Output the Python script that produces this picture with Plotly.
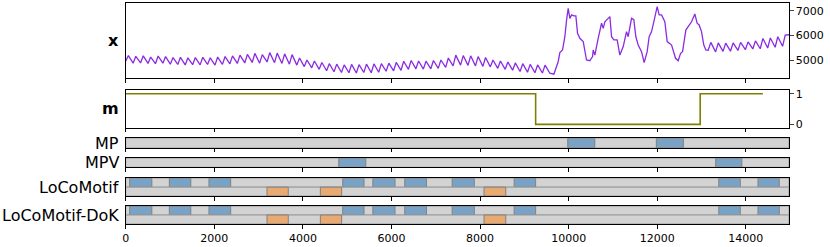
import plotly.graph_objects as go

# ---------------- data ----------------
WEEK = 168
X_END = 14975

# weekly sawtooth part of x (troughs / peaks per week)
x_week_trough = [4950, 4870, 4880, 4860, 4850, 4870, 4830, 4820, 4800, 4810,
                 4800, 4820, 4790, 4820, 4840, 4860, 4880, 4900, 4870, 4920,
                 4890, 4860, 4830, 4790, 4730, 4680, 4620, 4560, 4520, 4490,
                 4480, 4470, 4490, 4480, 4500, 4540, 4560, 4580, 4620, 4640,
                 4630, 4640, 4660, 4700, 4760, 4790, 4780, 4760, 4740, 4720,
                 4660, 4620, 4580, 4530, 4500, 4480, 4470, 4460]
x_week_peak = [5180, 5150, 5170, 5120, 5160, 5140, 5100, 5110, 5090, 5100,
               5110, 5090, 5120, 5140, 5170, 5200, 5230, 5270, 5220, 5300,
               5280, 5250, 5220, 5080, 5000, 4960, 4900, 4850, 4830, 4800,
               4820, 4810, 4830, 4840, 4850, 4870, 4900, 4950, 4980, 4960,
               4950, 4980, 5000, 5080, 5200, 5180, 5170, 5140, 5100, 5000,
               4960, 4920, 4880, 4850, 4820, 4800, 4790]

# irregular event part of x
x_event_t = [9667, 9764, 9802, 9862, 9915, 9953, 9990, 10028, 10066, 10118,
             10163, 10201, 10253, 10329, 10366, 10404, 10479, 10540, 10555, 10592,
             10667, 10743, 10781, 10818, 10893, 10931, 10969, 11021, 11096, 11156,
             11231, 11307, 11344, 11420, 11472, 11517, 11570, 11646, 11705, 11773,
             11818, 11872, 11932, 11999, 12044, 12098, 12172, 12225, 12324, 12360,
             12414, 12473, 12527, 12572, 12646, 12699, 12775, 12849, 12901, 12946,
             13000, 13052, 13097]
x_event_v = [4420, 4930, 5300, 5410, 5950, 6630, 7110, 6700, 6840, 6800,
             6800, 6090, 5885, 5750, 5410, 5000, 4970, 5140, 5410, 5200,
             5885, 6500, 6290, 6560, 6700, 6770, 5950, 5820, 5820, 5200,
             5540, 6160, 5950, 6700, 6650, 5950, 5610, 5340, 4890, 5340,
             5950, 6160, 6630, 7180, 6840, 6840, 6560, 5750, 5610, 5410,
             5070, 4970, 5270, 5340, 6220, 6360, 6560, 6880, 6500, 6430,
             6160, 5610, 5410]

# weekly sawtooth tail of x
x_tail_start = 13150
x_tail_trough = [5400, 5330, 5350, 5360, 5390, 5420, 5450, 5460, 5490, 5520, 5560]
x_tail_peak = [5720, 5700, 5690, 5700, 5720, 5740, 5780, 5880, 5900, 5950, 6020]
x_last = 6030

# m (step signal)
m_t = [0, 9255, 12970, 14386]
m_v = [1, 0, 1, 1]

# motif sets: (start, end)
mp_blue = [(9980, 10590), (11980, 12590)]
mpv_blue = [(4810, 5420), (13320, 13910)]
loco_blue = [(90, 590), (985, 1470), (1880, 2370), (4900, 5380), (5580, 6080),
             (6300, 6790), (7370, 7870), (8770, 9255), (13390, 13875), (14275, 14755)]
loco_orange = [(3190, 3670), (4395, 4875), (8090, 8580)]
dok_blue = list(loco_blue)
dok_orange = list(loco_orange)

panel_labels = ["x", "m", "MP", "MPV", "LoCoMotif", "LoCoMotif-DoK"]
x_ticks = [0, 2000, 4000, 6000, 8000, 10000, 12000, 14000]
x_tick_text = ["0", "2000", "4000", "6000", "8000", "10000", "12000", "14000"]
x_yticks = [5000, 6000, 7000]
m_yticks = [0, 1]

# ---------------- build series ----------------
xt, xv = [], []
for i, (tr, pk) in enumerate(zip(x_week_trough, x_week_peak)):
    xt += [i * WEEK, i * WEEK + 60]
    xv += [tr, pk]
xt.append(len(x_week_peak) * WEEK)
xv.append(x_week_trough[-1])
xt += x_event_t
xv += x_event_v
for k, (tr, pk) in enumerate(zip(x_tail_trough, x_tail_peak)):
    xt += [x_tail_start + k * WEEK, x_tail_start + k * WEEK + 60]
    xv += [tr, pk]
xt.append(X_END)
xv.append(x_last)

# ---------------- layout geometry ----------------
W, H = 830, 247
LEFT, RIGHT = 125.7, 789.0
panels_px = [(3.3, 78.3), (90.0, 127.7), (138.3, 147.7), (158.3, 167.3),
             (178.3, 196.0), (206.0, 224.0)]
dom = [[(H - b) / H, (H - t) / H] for t, b in panels_px]
xdom = [LEFT / W, RIGHT / W]

FONT = "DejaVu Sans"
BLUE = "#79a3c6"
ORANGE = "#e9aa72"
GRAY = "#d3d3d3"
EDGE = "#808080"
BGEDGE = "#9a9a9a"

fig = go.Figure()
fig.add_trace(go.Scatter(x=xt, y=xv, mode="lines", line=dict(color="#8a2be2", width=1.3),
                         xaxis="x", yaxis="y", showlegend=False, hoverinfo="skip"))
fig.add_trace(go.Scatter(x=m_t, y=m_v, mode="lines", line=dict(color="#808000", width=1.6, shape="hv"),
                         xaxis="x2", yaxis="y2", showlegend=False, hoverinfo="skip"))
for k in range(3, 7):
    fig.add_trace(go.Scatter(x=[None], y=[None], mode="lines", xaxis=f"x{k}", yaxis=f"y{k}",
                             showlegend=False, hoverinfo="skip"))

shapes = []

def add_row(axn, y0, y1, blues, color):
    shapes.append(dict(type="rect", xref=f"x{axn}", yref=f"y{axn}", x0=0, x1=X_END, y0=y0, y1=y1,
                       fillcolor=GRAY, line=dict(color=BGEDGE, width=1), layer="below"))
    for s, e in blues:
        shapes.append(dict(type="rect", xref=f"x{axn}", yref=f"y{axn}", x0=s, x1=e, y0=y0, y1=y1,
                           fillcolor=color, line=dict(color=EDGE, width=1), layer="below"))

add_row(3, 0, 1, mp_blue, BLUE)
add_row(4, 0, 1, mpv_blue, BLUE)
add_row(5, 1, 2, loco_blue, BLUE)
add_row(5, 0, 1, loco_orange, ORANGE)
add_row(6, 1, 2, dok_blue, BLUE)
add_row(6, 0, 1, dok_orange, ORANGE)

layout = dict(width=W, height=H, margin=dict(l=0, r=0, t=0, b=0, autoexpand=False),
              paper_bgcolor="white", plot_bgcolor="white",
              font=dict(family=FONT, size=11, color="black"), shapes=shapes, showlegend=False)

yranges = [[4253, 7314], [-0.11, 1.12], [0, 1], [0, 1], [0, 2], [0, 2]]
for k in range(1, 7):
    xs = "" if k == 1 else str(k)
    layout[f"xaxis{xs}"] = dict(domain=xdom, anchor=f"y{xs}", range=[0, X_END],
                                showline=True, mirror=True, linecolor="black", linewidth=1,
                                ticks="outside", ticklen=3.5, tickwidth=1, tickcolor="black",
                                tickvals=x_ticks, ticktext=x_tick_text,
                                showticklabels=(k == 6), showgrid=False, automargin=False,
                                zeroline=False, tickfont=dict(size=11),
                                **({} if k == 1 else {"matches": "x"}))
    ya = dict(domain=dom[k - 1], anchor=f"x{xs}", range=yranges[k - 1],
              showline=True, mirror=True, linecolor="black", linewidth=1,
              showgrid=False, zeroline=False, automargin=False)
    if k == 1:
        ya.update(side="right", ticks="outside", ticklen=3.5, tickvals=x_yticks,
                  tickfont=dict(size=11))
    elif k == 2:
        ya.update(side="right", ticks="outside", ticklen=3.5, tickvals=m_yticks,
                  tickfont=dict(size=11))
    else:
        ya.update(showticklabels=False, ticks="")
    layout[f"yaxis{xs}"] = ya

annotations = []
for i, lab in enumerate(panel_labels):
    t, b = panels_px[i]
    txt = f"<b>{lab}</b>" if i < 2 else lab
    annotations.append(dict(text=txt, xref="paper", yref="paper", x=120.5 / W,
                            y=(H - (t + b) / 2) / H, xanchor="right", yanchor="middle",
                            showarrow=False, font=dict(size=16, family=FONT)))
layout["annotations"] = annotations

fig.update_layout(**layout)
fig.write_html("out.html", config={"displayModeBar": False},
               post_script="document.body.style.margin='0';document.body.style.overflow='hidden';")
